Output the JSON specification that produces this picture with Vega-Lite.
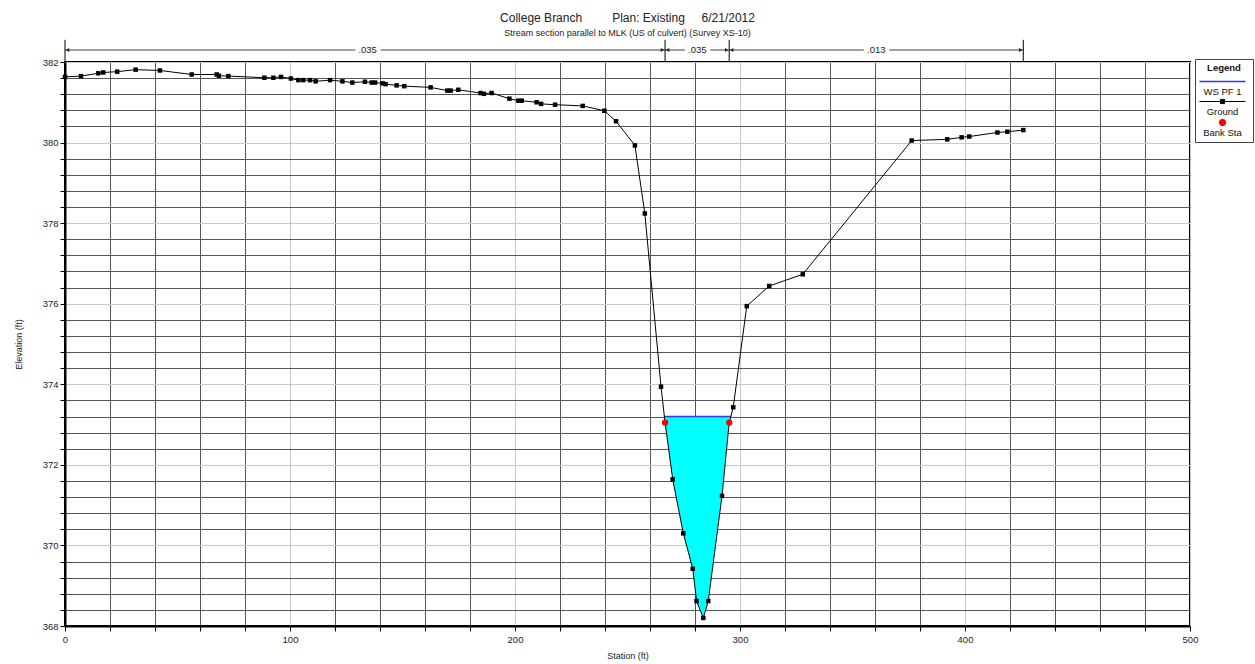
{
  "$schema": "https://vega.github.io/schema/vega-lite/v6.json",
  "width": 1125,
  "height": 564,
  "autosize": {"type": "none"},
  "padding": {"left": 65, "top": 62, "right": 65, "bottom": 38},
  "background": "white",
  "config": {
    "font": "Liberation Sans",
    "view": {"stroke": "#000", "strokeWidth": 2},
    "axis": {
      "labelFont": "Liberation Sans",
      "titleFont": "Liberation Sans",
      "labelFontSize": 9.5,
      "titleFontSize": 9,
      "titleFontWeight": "normal",
      "labelColor": "#222",
      "titleColor": "#222",
      "domainColor": "#000",
      "domainWidth": 2,
      "tickColor": "#000",
      "tickSize": 5,
      "gridWidth": 1
    }
  },
  "title": {
    "text": "College Branch\u00a0\u00a0\u00a0\u00a0\u00a0\u00a0\u00a0\u00a0\u00a0Plan: Existing\u00a0\u00a0\u00a0\u00a0\u00a06/21/2012",
    "subtitle": "Stream section parallel to MLK (US of culvert) (Survey XS-10)",
    "frame": "group",
    "anchor": "middle",
    "offset": 0,
    "fontSize": 12,
    "fontWeight": "normal",
    "color": "#222",
    "subtitleFontSize": 9,
    "subtitleColor": "#222",
    "subtitlePadding": 4,
    "font": "Liberation Sans",
    "subtitleFont": "Liberation Sans"
  },
  "datasets": {
    "ground": [
      {"station": 0, "elev": 381.63},
      {"station": 7.1, "elev": 381.65},
      {"station": 14.8, "elev": 381.72},
      {"station": 17.0, "elev": 381.74},
      {"station": 23.2, "elev": 381.76},
      {"station": 31.4, "elev": 381.81},
      {"station": 42.2, "elev": 381.79},
      {"station": 56.3, "elev": 381.69},
      {"station": 67.4, "elev": 381.69},
      {"station": 68.4, "elev": 381.66},
      {"station": 72.6, "elev": 381.65},
      {"station": 88.6, "elev": 381.61},
      {"station": 92.6, "elev": 381.61},
      {"station": 96.0, "elev": 381.63},
      {"station": 100.4, "elev": 381.59},
      {"station": 103.7, "elev": 381.55},
      {"station": 105.9, "elev": 381.55},
      {"station": 108.9, "elev": 381.55},
      {"station": 111.4, "elev": 381.52},
      {"station": 117.8, "elev": 381.55},
      {"station": 123.3, "elev": 381.52},
      {"station": 127.7, "elev": 381.49},
      {"station": 133.3, "elev": 381.51},
      {"station": 136.3, "elev": 381.49},
      {"station": 137.8, "elev": 381.49},
      {"station": 141.2, "elev": 381.47},
      {"station": 142.5, "elev": 381.45},
      {"station": 147.4, "elev": 381.42},
      {"station": 150.8, "elev": 381.40},
      {"station": 162.5, "elev": 381.37},
      {"station": 169.9, "elev": 381.29},
      {"station": 171.4, "elev": 381.29},
      {"station": 174.8, "elev": 381.31},
      {"station": 184.7, "elev": 381.23},
      {"station": 186.2, "elev": 381.21},
      {"station": 189.6, "elev": 381.23},
      {"station": 197.5, "elev": 381.09},
      {"station": 201.5, "elev": 381.04},
      {"station": 203.0, "elev": 381.04},
      {"station": 209.6, "elev": 381.00},
      {"station": 211.6, "elev": 380.96},
      {"station": 217.8, "elev": 380.94},
      {"station": 230.1, "elev": 380.91},
      {"station": 239.7, "elev": 380.79},
      {"station": 244.9, "elev": 380.53},
      {"station": 253.3, "elev": 379.93},
      {"station": 257.7, "elev": 378.24},
      {"station": 264.9, "elev": 373.94},
      {"station": 266.7, "elev": 373.05},
      {"station": 270.1, "elev": 371.64},
      {"station": 274.8, "elev": 370.30},
      {"station": 279.0, "elev": 369.42},
      {"station": 280.7, "elev": 368.62},
      {"station": 283.7, "elev": 368.20},
      {"station": 285.9, "elev": 368.62},
      {"station": 292.0, "elev": 371.23},
      {"station": 295.2, "elev": 373.05},
      {"station": 297.0, "elev": 373.43},
      {"station": 303.0, "elev": 375.94},
      {"station": 313.0, "elev": 376.44},
      {"station": 327.9, "elev": 376.73},
      {"station": 376.3, "elev": 380.05},
      {"station": 392.1, "elev": 380.08},
      {"station": 398.5, "elev": 380.13},
      {"station": 401.9, "elev": 380.15},
      {"station": 414.4, "elev": 380.25},
      {"station": 418.8, "elev": 380.27},
      {"station": 425.9, "elev": 380.31}
    ],
    "water": [
      {"station": 266.4, "ground": 373.2, "ws": 373.2},
      {"station": 266.7, "ground": 373.05, "ws": 373.2},
      {"station": 270.1, "ground": 371.64, "ws": 373.2},
      {"station": 274.8, "ground": 370.30, "ws": 373.2},
      {"station": 279.0, "ground": 369.42, "ws": 373.2},
      {"station": 280.7, "ground": 368.62, "ws": 373.2},
      {"station": 283.7, "ground": 368.20, "ws": 373.2},
      {"station": 285.9, "ground": 368.62, "ws": 373.2},
      {"station": 292.0, "ground": 371.23, "ws": 373.2},
      {"station": 295.2, "ground": 373.05, "ws": 373.2},
      {"station": 296.1, "ground": 373.2, "ws": 373.2}
    ],
    "wsline": [
      {"profile": "WS PF 1", "left": 266.4, "right": 296.1, "ws": 373.2}
    ],
    "bank": [
      {"station": 266.7, "elev": 373.05},
      {"station": 295.2, "elev": 373.05}
    ],
    "nvals": [
      {"n": ".035", "left": 0, "right": 266.7, "mid": 134.5},
      {"n": ".035", "left": 266.7, "right": 295.2, "mid": 281.0},
      {"n": ".013", "left": 295.2, "right": 425.9, "mid": 360.6}
    ],
    "nbreaks": [
      {"station": 0},
      {"station": 266.7},
      {"station": 295.2},
      {"station": 425.9}
    ]
  },
  "layer": [
    {
      "data": {"name": "water"},
      "mark": {"type": "area", "color": "#00ffff", "opacity": 1},
      "encoding": {
        "x": {
          "field": "station",
          "type": "quantitative",
          "scale": {"domain": [0, 500], "nice": false, "zero": false},
          "axis": {
            "values": [0, 20, 40, 60, 80, 100, 120, 140, 160, 180, 200, 220, 240, 260, 280, 300, 320, 340, 360, 380, 400, 420, 440, 460, 480, 500],
            "tickCount": 60,
            "labelExpr": "datum.value % 100 === 0 ? datum.label : ''",
            "labelFlush": false,
            "labelPadding": 3,
            "title": "Station (ft)",
            "titlePadding": 8,
            "grid": true,
            "gridColor": {"condition": {"test": "datum.value % 100 === 0", "value": "#c8c8c8"}, "value": "#555"}
          }
        },
        "y": {
          "field": "ground",
          "type": "quantitative",
          "scale": {"domain": [368, 382], "nice": false, "zero": false},
          "axis": {
            "values": [368, 368.4, 368.8, 369.2, 369.6, 370, 370.4, 370.8, 371.2, 371.6, 372, 372.4, 372.8, 373.2, 373.6, 374, 374.4, 374.8, 375.2, 375.6, 376, 376.4, 376.8, 377.2, 377.6, 378, 378.4, 378.8, 379.2, 379.6, 380, 380.4, 380.8, 381.2, 381.6, 382],
            "tickCount": 80,
            "tickMinStep": 0.1,
            "labelExpr": "datum.value % 2 === 0 ? format(datum.value, 'd') : ''",
            "labelFlush": false,
            "labelOverlap": false,
            "labelPadding": 2,
            "title": "Elevation (ft)",
            "titlePadding": 19,
            "grid": true,
            "gridColor": {"condition": {"test": "datum.value % 2 === 0", "value": "#c8c8c8"}, "value": "#555"}
          }
        },
        "y2": {"field": "ws"}
      }
    },
    {
      "data": {"name": "wsline"},
      "mark": {"type": "rule", "strokeWidth": 1.5},
      "encoding": {
        "x": {"field": "left", "type": "quantitative"},
        "x2": {"field": "right"},
        "y": {"field": "ws", "type": "quantitative"},
        "color": {
          "datum": "WS PF 1",
          "type": "nominal",
          "scale": {"domain": ["WS PF 1", "Ground", "Bank Sta"], "range": ["#3333ff", "#000000", "#ff0000"]},
          "legend": {
            "title": "Legend",
            "orient": "none",
            "legendX": 1130,
            "legendY": -3,
            "direction": "vertical",
            "strokeColor": "#444",
            "fillColor": "white",
            "padding": 4,
            "titleFont": "Liberation Sans",
            "titleFontSize": 9.5,
            "titleFontWeight": "bold",
            "titleColor": "#111",
            "titleAnchor": "middle",
            "titlePadding": 8,
            "labelFont": "Liberation Sans",
            "labelFontSize": 9.5,
            "labelColor": "#111",
            "rowPadding": 0,
            "encode": {
              "symbols": {
                "update": {
                  "x": {"value": 23.5},
                  "y": {"value": 1},
                  "shape": {"signal": "datum.value === 'Ground' ? 'M-1,0L1,0M-0.09,-0.09L0.09,-0.09L0.09,0.09L-0.09,0.09Z' : (datum.value === 'Bank Sta' ? 'circle' : 'stroke')"},
                  "size": {"signal": "datum.value === 'Bank Sta' ? 40 : 2116"},
                  "fill": {"signal": "datum.value === 'Ground' ? '#000' : (datum.value === 'Bank Sta' ? '#ff0000' : 'transparent')"},
                  "stroke": {"signal": "datum.value === 'Ground' ? '#000' : (datum.value === 'Bank Sta' ? '#ff0000' : '#3333ff')"},
                  "strokeWidth": {"signal": "datum.value === 'WS PF 1' ? 1.5 : 1"},
                  "opacity": {"value": 1}
                }
              },
              "labels": {
                "update": {
                  "x": {"value": 23.5},
                  "y": {"value": 11.5},
                  "align": {"value": "center"},
                  "baseline": {"value": "middle"}
                }
              }
            }
          }
        }
      }
    },
    {
      "data": {"name": "ground"},
      "mark": {"type": "line", "strokeWidth": 1},
      "encoding": {
        "x": {"field": "station", "type": "quantitative"},
        "y": {"field": "elev", "type": "quantitative"},
        "color": {"datum": "Ground", "type": "nominal"}
      }
    },
    {
      "data": {"name": "ground"},
      "mark": {"type": "square", "size": 20, "filled": true, "color": "#000", "opacity": 1},
      "encoding": {
        "x": {"field": "station", "type": "quantitative"},
        "y": {"field": "elev", "type": "quantitative"}
      }
    },
    {
      "data": {"name": "bank"},
      "mark": {"type": "circle", "size": 40, "opacity": 1},
      "encoding": {
        "x": {"field": "station", "type": "quantitative"},
        "y": {"field": "elev", "type": "quantitative"},
        "color": {"datum": "Bank Sta", "type": "nominal"}
      }
    },
    {
      "data": {"name": "nvals"},
      "mark": {"type": "rule", "color": "#808080", "strokeWidth": 1.5},
      "encoding": {
        "x": {"field": "left", "type": "quantitative"},
        "x2": {"field": "right"},
        "y": {"datum": 382.3}
      }
    },
    {
      "data": {"name": "nvals"},
      "mark": {"type": "point", "shape": "triangle-left", "size": 16, "filled": true, "color": "#222", "opacity": 1, "xOffset": 2.5},
      "encoding": {
        "x": {"field": "left", "type": "quantitative"},
        "y": {"datum": 382.3}
      }
    },
    {
      "data": {"name": "nvals"},
      "mark": {"type": "point", "shape": "triangle-right", "size": 16, "filled": true, "color": "#222", "opacity": 1, "xOffset": -2.5},
      "encoding": {
        "x": {"field": "right", "type": "quantitative"},
        "y": {"datum": 382.3}
      }
    },
    {
      "data": {"name": "nbreaks"},
      "mark": {"type": "rule", "color": "#000", "strokeWidth": 1},
      "encoding": {
        "x": {"field": "station", "type": "quantitative"},
        "y": {"datum": 382},
        "y2": {"datum": 382.55}
      }
    },
    {
      "data": {"name": "nvals"},
      "mark": {"type": "text", "fontSize": 9.5, "font": "Liberation Sans", "color": "white", "stroke": "white", "strokeWidth": 8, "baseline": "middle"},
      "encoding": {
        "x": {"field": "mid", "type": "quantitative"},
        "y": {"datum": 382.3},
        "text": {"field": "n"}
      }
    },
    {
      "data": {"name": "nvals"},
      "mark": {"type": "text", "fontSize": 9.5, "font": "Liberation Sans", "color": "#222", "baseline": "middle"},
      "encoding": {
        "x": {"field": "mid", "type": "quantitative"},
        "y": {"datum": 382.3},
        "text": {"field": "n"}
      }
    }
  ]
}
